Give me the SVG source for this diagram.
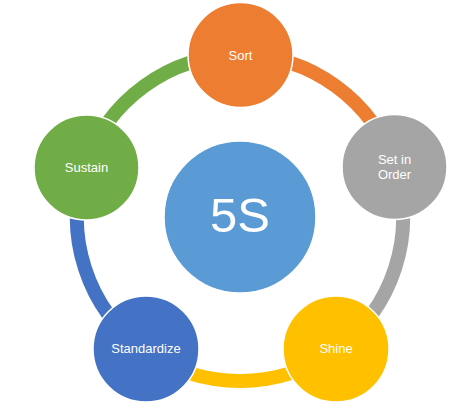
<svg xmlns="http://www.w3.org/2000/svg" width="470" height="418" viewBox="0 0 470 418">
<style>
.arc{fill:none;stroke-width:14}
.node{stroke:#fff;stroke-width:1.5}
.lbl{font-family:"Liberation Sans",Arial,sans-serif;font-size:13px;fill:#fff;text-anchor:middle}
.big{font-family:"Liberation Sans",Arial,sans-serif;font-size:49px;fill:#fff;text-anchor:middle}
</style>
<rect width="470" height="418" fill="#fff"/>
<g id="connectors">
<path class="arc" stroke="#ED7D31" d="M240 55 A163 163 0 0 1 395 167.6"/>
<path class="arc" stroke="#A5A5A5" d="M395 167.6 A163 163 0 0 1 335.8 349.9"/>
<path class="arc" stroke="#FFC000" d="M335.8 349.9 A163 163 0 0 1 144.2 349.9"/>
<path class="arc" stroke="#4472C4" d="M144.2 349.9 A163 163 0 0 1 85 167.6"/>
<path class="arc" stroke="#70AD47" d="M85 167.6 A163 163 0 0 1 240 55"/>
</g>
<g id="center">
<circle cx="240" cy="217" r="76" fill="#5B9BD5" class="node"/>
<text x="240" y="232" class="big">5S</text>
</g>
<g id="sort">
<circle cx="240.5" cy="55" r="52.5" fill="#ED7D31" class="node"/>
<text x="240.5" y="60" class="lbl">Sort</text>
</g>
<g id="set-in-order">
<circle cx="394.5" cy="167" r="52.5" fill="#A5A5A5" class="node"/>
<text x="394.5" y="164" class="lbl">Set in</text>
<text x="394.5" y="179" class="lbl">Order</text>
</g>
<g id="shine">
<circle cx="336" cy="349" r="53" fill="#FFC000" class="node"/>
<text x="336" y="353" class="lbl">Shine</text>
</g>
<g id="standardize">
<circle cx="146" cy="349" r="53" fill="#4472C4" class="node"/>
<text x="146" y="353" class="lbl">Standardize</text>
</g>
<g id="sustain">
<circle cx="86.5" cy="167.5" r="52.5" fill="#70AD47" class="node"/>
<text x="86.5" y="172" class="lbl">Sustain</text>
</g>
</svg>
